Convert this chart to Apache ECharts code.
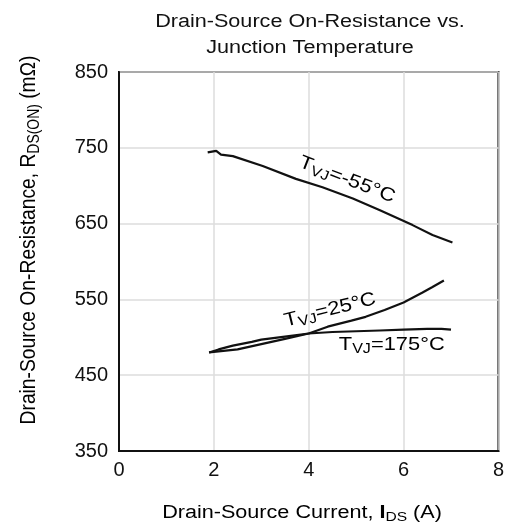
<!DOCTYPE html>
<html>
<head>
<meta charset="utf-8">
<script src="https://cdn.jsdelivr.net/npm/echarts@6/dist/echarts.min.js"></script>
<style>
  html, body { margin: 0; padding: 0; background: #fff; }
  #chart { width: 507px; height: 528px; }
</style>
</head>
<body>
<div id="chart"></div>
<script>
// Drain-source on-resistance (mΩ) versus drain current (A) at three junction temperatures
const xTicks = [0, 2, 4, 6, 8];
const yTicks = [350, 450, 550, 650, 750, 850];

const current55 = [1.87, 2.05, 2.15, 2.4, 3.03, 3.73, 4.29, 4.93, 5.49, 6.19, 6.61, 7.03];
const rds55     = [744, 746, 741, 739, 726, 709, 698, 683, 668, 648, 635, 625];

const current25 = [1.9, 2.2, 2.5, 3.0, 3.5, 4.0, 4.4, 4.9, 5.2, 5.6, 6.0, 6.4, 6.6, 6.85];
const rds25     = [480, 482, 484, 491, 498, 505, 514, 522, 527, 536, 546, 559, 566, 575];

const current175 = [1.9, 2.1, 2.4, 2.8, 3.0, 3.5, 4.0, 4.5, 5.0, 5.5, 6.0, 6.5, 6.8, 7.0];
const rds175     = [480, 484, 489, 494, 497, 501, 505, 507, 508, 509, 510, 511, 511, 510];

// Curve labels: temperature text, anchor point in data space, rotation in degrees
const curveLabels = [
  { name: '-55°C', at: [4.81, 708], rot: -21 },
  { name: '25°C',  at: [4.45, 536], rot: 14 },
  { name: '175°C', at: [5.75, 490], rot: 0 }
];

const FONT = 'Liberation Sans, Arial, sans-serif';
const INK = '#111';
const WIDE = 1.2;   // horizontal stretch of the lettering

const pairs = (xs, ys) => xs.map((x, i) => [x, ys[i]]);

const chart = echarts.init(document.getElementById('chart'), null, { renderer: 'canvas' });

const lineSeries = (data) => ({
  type: 'line',
  data: data,
  showSymbol: false,
  smooth: false,
  lineStyle: { color: INK, width: 2.2 },
  animation: false,
  silent: true
});

const subRich = (size) => ({
  n: { fontFamily: FONT, fontSize: size, color: INK, lineHeight: size + 6 },
  b: { fontFamily: FONT, fontSize: size, color: INK, fontWeight: 'bold', lineHeight: size + 6 },
  s: { fontFamily: FONT, fontSize: Math.round(size * 0.72), color: INK, verticalAlign: 'bottom', lineHeight: size + 6, padding: [0, 0, 1, 0] }
});

chart.setOption({
  animation: false,
  backgroundColor: '#fff',
  grid: {
    left: 119, right: 8, top: 72, bottom: 77,
    show: true, borderColor: INK, borderWidth: 2, backgroundColor: 'transparent'
  },
  xAxis: {
    type: 'value',
    min: xTicks[0], max: xTicks[xTicks.length - 1], interval: 2,
    axisLine: { show: true, onZero: false, lineStyle: { color: INK, width: 2 } },
    axisTick: { show: false },
    axisLabel: { color: INK, fontFamily: FONT, fontSize: 20, margin: 9 },
    splitLine: { show: true, lineStyle: { color: '#dcdcdc', width: 1.5 } }
  },
  yAxis: {
    type: 'value',
    min: yTicks[0], max: yTicks[yTicks.length - 1], interval: 100,
    axisLine: { show: true, onZero: false, lineStyle: { color: INK, width: 2 } },
    axisTick: { show: false },
    axisLabel: { color: INK, fontFamily: FONT, fontSize: 20, margin: 11 },
    splitLine: { show: true, lineStyle: { color: '#dcdcdc', width: 1.5 } }
  },
  series: [
    lineSeries(pairs(current55, rds55)),
    lineSeries(pairs(current25, rds25)),
    lineSeries(pairs(current175, rds175))
  ]
});

const graphics = [
  {
    type: 'text', x: 310, y: 22, scaleX: WIDE,
    style: { text: 'Drain-Source On-Resistance vs.', font: '18px ' + FONT, fill: INK, textAlign: 'center', textVerticalAlign: 'middle' }
  },
  {
    type: 'text', x: 310, y: 48, scaleX: WIDE,
    style: { text: 'Junction Temperature', font: '18px ' + FONT, fill: INK, textAlign: 'center', textVerticalAlign: 'middle' }
  },
  {
    type: 'text', x: 302, y: 513, scaleX: WIDE,
    style: {
      text: '{n|Drain-Source Current, }{b|I}{s|DS}{n| (A)}',
      rich: subRich(18), textAlign: 'center', textVerticalAlign: 'middle'
    }
  },
  {
    type: 'text', x: 29, y: 240, rotation: Math.PI / 2, scaleX: 1.07, scaleY: WIDE,
    style: {
      text: '{n|Drain-Source On-Resistance, R}{s|DS(ON)}{n| (mΩ)}',
      rich: subRich(18), textAlign: 'center', textVerticalAlign: 'middle'
    }
  }
];

curveLabels.forEach(l => {
  const p = chart.convertToPixel({ gridIndex: 0 }, l.at);
  graphics.push({
    type: 'text', x: p[0], y: p[1], rotation: l.rot * Math.PI / 180, scaleX: 1.15,
    style: {
      text: '{n|T}{s|VJ}{n|=' + l.name + '}',
      rich: subRich(19), textAlign: 'center', textVerticalAlign: 'middle'
    }
  });
});

chart.setOption({ graphic: graphics });
</script>
</body>
</html>
